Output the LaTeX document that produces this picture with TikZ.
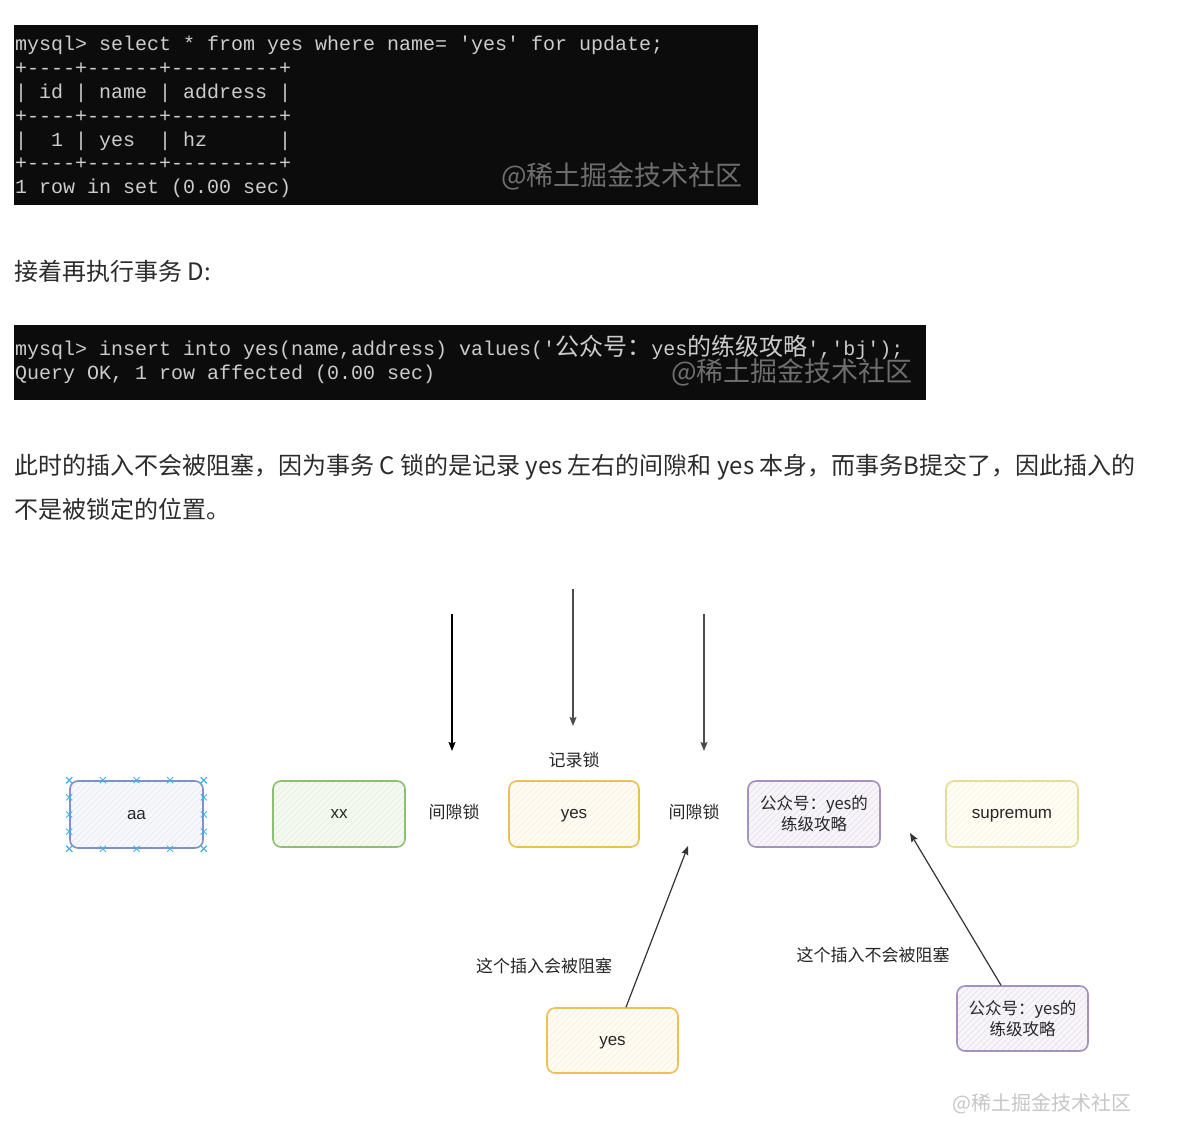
\documentclass[tikz,border=0pt]{standalone}
\usepackage{fontspec}
\setmainfont{Noto Sans CJK SC}
\setmonofont{Liberation Mono}
\newfontfamily\cjk{Noto Sans CJK SC}
\newfontfamily\arialf{Liberation Sans}
\usetikzlibrary{arrows.meta,calc}
\definecolor{termbg}{HTML}{0C0C0C}
\definecolor{termfg}{HTML}{CCCCCC}
\definecolor{wmdark}{HTML}{6E6E6E}
\definecolor{wmlight}{HTML}{C6C6C6}
\definecolor{bodytxt}{HTML}{2B2B2B}
\definecolor{blueline}{HTML}{7E92C8}
\definecolor{bluefill}{HTML}{F6F8FC}
\definecolor{bluehatch}{HTML}{E2E6EE}
\definecolor{selblue}{HTML}{3CB4EC}
\definecolor{greenline}{HTML}{8DBF73}
\definecolor{greenfill}{HTML}{F5FAF1}
\definecolor{greenhatch}{HTML}{E2ECDA}
\definecolor{orangeline}{HTML}{EBC054}
\definecolor{orangefill}{HTML}{FFFCF3}
\definecolor{orangehatch}{HTML}{F6EEDA}
\definecolor{purpleline}{HTML}{A592BC}
\definecolor{purplefill}{HTML}{F7F4FA}
\definecolor{purplehatch}{HTML}{E4DDEC}
\definecolor{yelline}{HTML}{E6DC96}
\definecolor{yelfill}{HTML}{FFFEF4}
\definecolor{yelhatch}{HTML}{F3F0DA}
\tikzset{
  term/.style={fill=termbg, draw=none},
  tline/.style={anchor=base west, inner sep=0pt, text=termfg, font=\ttfamily\fontsize{20}{24}\selectfont},
  wm/.style={inner sep=0pt, font=\cjk\fontsize{#1}{#1}\selectfont},
  body/.style={anchor=west, inner sep=0pt, text=bodytxt, font=\fontsize{24}{28}\selectfont},
  hatch/.style={path picture={
      \foreach \k in {-100,-94,...,160}{
        \draw[#1, line width=0.6pt] ($(path picture bounding box.south west)+(\k pt,0pt)$) -- ++(100pt,100pt);}}},
  box/.style={draw=#1line, fill=#1fill, hatch=#1hatch, rounded corners=8pt, line width=1.6pt,
      minimum width=132pt, minimum height=66pt, inner sep=2pt, text=black!85,
      font=\arialf\fontsize{17}{21}\selectfont, align=center, text height=12pt, text depth=3pt},
  cbox/.style={box=#1, font=\cjk\fontsize{16.5}{21}\selectfont, text height=, text depth=},
  lbl/.style={inner sep=0pt, text=black!85, font=\cjk\fontsize{17}{21}\selectfont},
  arr/.style={line width=1.2pt, -{Stealth[length=9pt,width=7pt,inset=1.5pt]}},
  selm/.style={draw=selblue, line width=0.9pt}
}
\begin{document}
\begin{tikzpicture}[x=1pt,y=-1pt]
\fill[white] (0,0) rectangle (1181,1138);
\useasboundingbox (0,0) rectangle (1181,1138);
% terminal 1
\fill[term] (14,25) rectangle (758,205);
\node[tline] (t1) at (15,50) {mysql>~select~*~from~yes~where~name=~'yes'~for~update;};
\node[tline] (t2) at (15,74) {+----+------+---------+};
\node[tline] (t3) at (15,98) {|~id~|~name~|~address~|};
\node[tline] (t4) at (15,122) {+----+------+---------+};
\node[tline] (t5) at (15,146) {|~~1~|~yes~~|~hz~~~~~~|};
\node[tline] (t6) at (15,169) {+----+------+---------+};
\node[tline] (t7) at (15,193) {1~row~in~set~(0.00~sec)};
\node[wm=27, text=wmdark] (w1) at (622,176) {@稀土掘金技术社区};
% text
\node[body] (p0) at (14,271) {接着再执行事务 D:};
% terminal 2
\fill[term] (14,325) rectangle (926,400);
\node[tline] (s1) at (15,355) {mysql>~insert~into~yes(name,address)~values('{\cjk\fontsize{24}{24}\selectfont 公众号：}yes{\cjk\fontsize{24}{24}\selectfont 的练级攻略}','bj');};
\node[tline] (s2) at (15,379) {Query~OK,~1~row~affected~(0.00~sec)};
\node[wm=27, text=wmdark] (w2) at (792,372) {@稀土掘金技术社区};
% paragraph
\node[body] (p1) at (14,467) {此时的插入不会被阻塞，因为事务 C 锁的是记录 yes 左右的间隙和 yes 本身，而事务B提交了，因此插入的};
\node[body] (p2) at (14,509) {不是被锁定的位置。};
% diagram boxes
\node[box=blue] (aa) at (136.5,814.5) [minimum width=133pt, minimum height=67pt] {aa};
\node[box=green] (xx) at (339,814) {xx};
\node[box=orange] (yes) at (574,814) [minimum width=130pt] {yes};
\node[cbox=purple] (pub1) at (814,814) {公众号：yes的\\练级攻略};
\node[box=yel] (sup) at (1012,814) {supremum};
\node[box=orange] (yb) at (612.5,1040.5) [minimum width=131pt, minimum height=65pt] {yes};
\node[cbox=purple] (pub2) at (1022.5,1018.5) [minimum width=131pt, minimum height=65pt] {公众号：yes的\\练级攻略};
% selection marks on aa
\foreach \t in {0,0.25,0.5,0.75,1}{
  \foreach \a/\b in {north west/north east, south west/south east, north west/south west, north east/south east}{
    \draw[selm] ($(aa.\a)!\t!(aa.\b)$) +(-3,-3) -- +(3,3) +(-3,3) -- +(3,-3);
  }
}
% labels
\node[lbl] (gap1) at (454,812) {间隙锁};
\node[lbl] (gap2) at (694,812) {间隙锁};
\node[lbl] (rec) at (574,760) {记录锁};
\node[lbl] (l1) at (544,966) {这个插入会被阻塞};
\node[lbl] (l2) at (873,955) {这个插入不会被阻塞};
% arrows
\coordinate (a1s) at (452,614);
\coordinate (a1e) at (452,751);
\coordinate (a2s) at (573,589);
\coordinate (a2e) at (573,726);
\coordinate (a3s) at (704,614);
\coordinate (a3e) at (704,751);
\coordinate (u1e) at (688,846);
\coordinate (u2e) at (910,833);
\draw[arr, black] (a1s) -- (a1e);
\draw[arr, black!70] (a2s) -- (a2e);
\draw[arr, black!70] (a3s) -- (a3e);
\draw[arr, black!80] ($(yb.north)+(13.5,0)$) -- (u1e);
\draw[arr, black!80] ($(pub2.north)+(-21.5,0)$) -- (u2e);
% watermark
\node[wm=20, text=wmlight] (w3) at (1042,1104) {@稀土掘金技术社区};
\end{tikzpicture}
\end{document}
